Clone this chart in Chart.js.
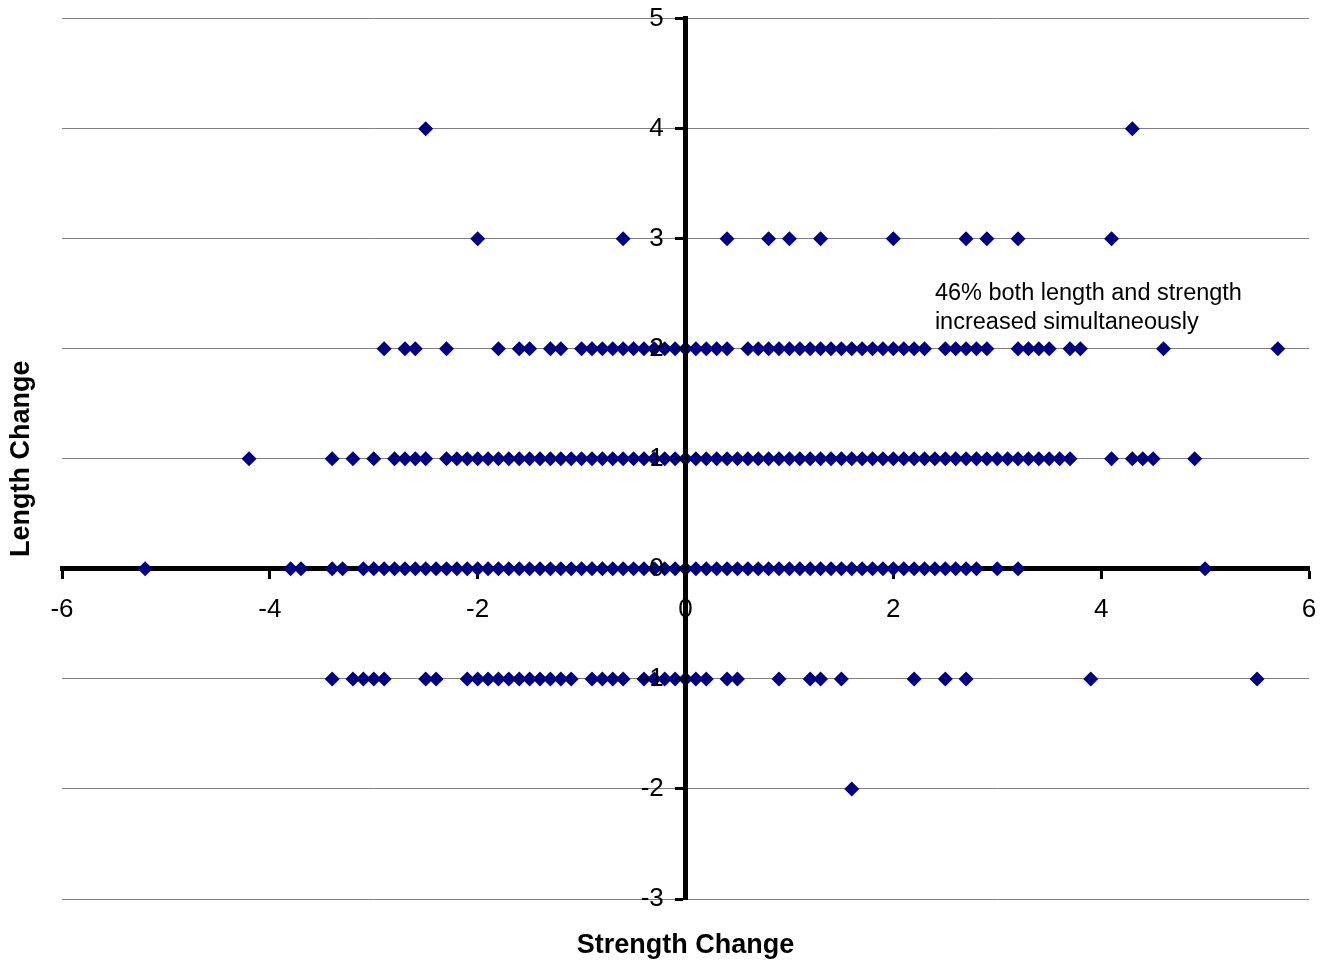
<!DOCTYPE html>
<html>
<head>
<meta charset="utf-8">
<script src="https://cdn.jsdelivr.net/npm/chart.js@4.4.1/dist/chart.umd.min.js"></script>
<style>
  html, body { margin: 0; padding: 0; background: #fff; }
  #chart { display: block; }
</style>
</head>
<body>
<canvas id="chart" width="1335" height="964"></canvas>
<script>
const FONT = 'Arial, "Liberation Sans", sans-serif'

// strength change values, one list per length-change level
const lengthLevels = [4, 3, 2, 1, 0, -1, -2]

const strengthAtLen4 = [-2.5, 4.3]

const strengthAtLen3 = [-2.0, -0.6, 0.4, 0.8, 1.0, 1.3, 2.0, 2.7, 2.9, 3.2, 4.1]

const strengthAtLen2 = [
  -2.9, -2.7, -2.6, -2.3, -1.8, -1.6, -1.5, -1.3, -1.2, -1.0, -0.9, -0.8, -0.7, -0.6, -0.5,
  -0.4, -0.3, -0.2, -0.1, 0.0, 0.1, 0.2, 0.3, 0.4,
  0.6, 0.7, 0.8, 0.9, 1.0, 1.1, 1.2, 1.3, 1.4, 1.5, 1.6, 1.7, 1.8, 1.9, 2.0, 2.1, 2.2, 2.3,
  2.5, 2.6, 2.7, 2.8, 2.9, 3.2, 3.3, 3.4, 3.5, 3.7, 3.8, 4.6, 5.7
]

const strengthAtLen1 = [
  -4.2, -3.4, -3.2, -3.0, -2.8, -2.7, -2.6, -2.5,
  -2.3, -2.2, -2.1, -2.0, -1.9, -1.8, -1.7, -1.6, -1.5, -1.4, -1.3, -1.2, -1.1, -1.0,
  -0.9, -0.8, -0.7, -0.6, -0.5, -0.4, -0.3, -0.2, -0.1, 0.0, 0.1, 0.2, 0.3, 0.4, 0.5,
  0.6, 0.7, 0.8, 0.9, 1.0, 1.1, 1.2, 1.3, 1.4, 1.5, 1.6, 1.7, 1.8, 1.9, 2.0, 2.1, 2.2,
  2.3, 2.4, 2.5, 2.6, 2.7, 2.8, 2.9, 3.0, 3.1, 3.2, 3.3, 3.4, 3.5, 3.6, 3.7,
  4.1, 4.3, 4.4, 4.5, 4.9
]

const strengthAtLen0 = [
  -5.2, -3.8, -3.7, -3.4, -3.3,
  -3.1, -3.0, -2.9, -2.8, -2.7, -2.6, -2.5, -2.4, -2.3, -2.2, -2.1, -2.0, -1.9, -1.8,
  -1.7, -1.6, -1.5, -1.4, -1.3, -1.2, -1.1, -1.0, -0.9, -0.8, -0.7, -0.6, -0.5, -0.4,
  -0.3, -0.2, -0.1, 0.0, 0.1, 0.2, 0.3, 0.4, 0.5, 0.6, 0.7, 0.8, 0.9, 1.0, 1.1, 1.2,
  1.3, 1.4, 1.5, 1.6, 1.7, 1.8, 1.9, 2.0, 2.1, 2.2, 2.3, 2.4, 2.5, 2.6, 2.7, 2.8,
  3.0, 3.2, 5.0
]

const strengthAtLenMinus1 = [
  -3.4, -3.2, -3.1, -3.0, -2.9, -2.5, -2.4,
  -2.1, -2.0, -1.9, -1.8, -1.7, -1.6, -1.5, -1.4, -1.3, -1.2, -1.1,
  -0.9, -0.8, -0.7, -0.6, -0.4, -0.3, -0.2, -0.1, 0.0, 0.1, 0.2, 0.4, 0.5,
  0.9, 1.2, 1.3, 1.5, 2.2, 2.5, 2.7, 3.9, 5.5
]

const strengthAtLenMinus2 = [1.6]

const strengthRows = [
  strengthAtLen4, strengthAtLen3, strengthAtLen2, strengthAtLen1,
  strengthAtLen0, strengthAtLenMinus1, strengthAtLenMinus2
]

const xTicks = [-6, -4, -2, 0, 2, 4, 6]
const yTicks = [-3, -2, -1, 0, 1, 2, 3, 4, 5]

const xTitle = 'Strength Change'
const yTitle = 'Length Change'
const noteLines = ['46% both length and strength', 'increased simultaneously']
const notePos = {x: 2.4, y: [2.50, 2.235]}

const points = []
lengthLevels.forEach((len, i) => {
  strengthRows[i].forEach(s => points.push({x: s, y: len}))
})

const textPlugin = {
  id: 'texts',
  afterDraw(chart){
    const {ctx, chartArea, scales} = chart
    ctx.save()
    ctx.fillStyle = '#000'
    ctx.font = 'bold 27px ' + FONT
    ctx.textAlign = 'center'
    ctx.textBaseline = 'middle'
    ctx.fillText(xTitle, (chartArea.left + chartArea.right) / 2, 946)
    ctx.translate(22, (chartArea.top + chartArea.bottom) / 2)
    ctx.rotate(-Math.PI / 2)
    ctx.fillText(yTitle, 0, 0)
    ctx.restore()

    ctx.save()
    ctx.fillStyle = '#000'
    ctx.font = '23.5px ' + FONT
    ctx.textAlign = 'left'
    ctx.textBaseline = 'middle'
    noteLines.forEach((t, i) => {
      ctx.fillText(t, scales.x.getPixelForValue(notePos.x), scales.y.getPixelForValue(notePos.y[i]))
    })
    ctx.restore()
  }
}

const tickFont = {family: FONT, size: 26}

new Chart(document.getElementById('chart').getContext('2d'), {
  type: 'scatter',
  data: {
    datasets: [{
      data: points,
      pointStyle: 'rectRot',
      pointRadius: 7.5,
      pointHoverRadius: 7.5,
      backgroundColor: '#000080',
      borderColor: '#000080',
      borderWidth: 0
    }]
  },
  options: {
    responsive: false,
    animation: false,
    layout: {padding: {left: 62, right: 26, top: 8, bottom: 65}},
    plugins: {legend: {display: false}, tooltip: {enabled: false}},
    scales: {
      x: {
        type: 'linear', position: {y: 0}, min: -6, max: 6,
        afterBuildTicks: s => { s.ticks = xTicks.map(v => ({value: v})) },
        ticks: {color: '#000', font: tickFont, padding: 17},
        grid: {drawOnChartArea: false, drawTicks: true, tickLength: 8, tickColor: '#000', tickWidth: 3},
        border: {display: true, color: '#000', width: 5}
      },
      y: {
        type: 'linear', position: {x: 0}, min: -3, max: 5,
        afterBuildTicks: s => { s.ticks = yTicks.map(v => ({value: v})) },
        ticks: {display: false},
        grid: {color: '#808080', lineWidth: 1, drawTicks: false},
        border: {display: false}
      },
      y2: {
        type: 'linear', axis: 'y', position: {x: 0}, min: -3, max: 5,
        afterBuildTicks: s => { s.ticks = yTicks.map(v => ({value: v})) },
        // centred axis puts labels flush with the line, so pad them with spaces
        ticks: {color: '#000', font: tickFont, z: 1, callback: v => v + '   '},
        grid: {drawOnChartArea: false, tickLength: 8, tickColor: '#000', tickWidth: 3, z: 1},
        border: {display: true, color: '#000', width: 5, z: 1}
      }
    }
  },
  plugins: [textPlugin]
})
</script>
</body>
</html>
